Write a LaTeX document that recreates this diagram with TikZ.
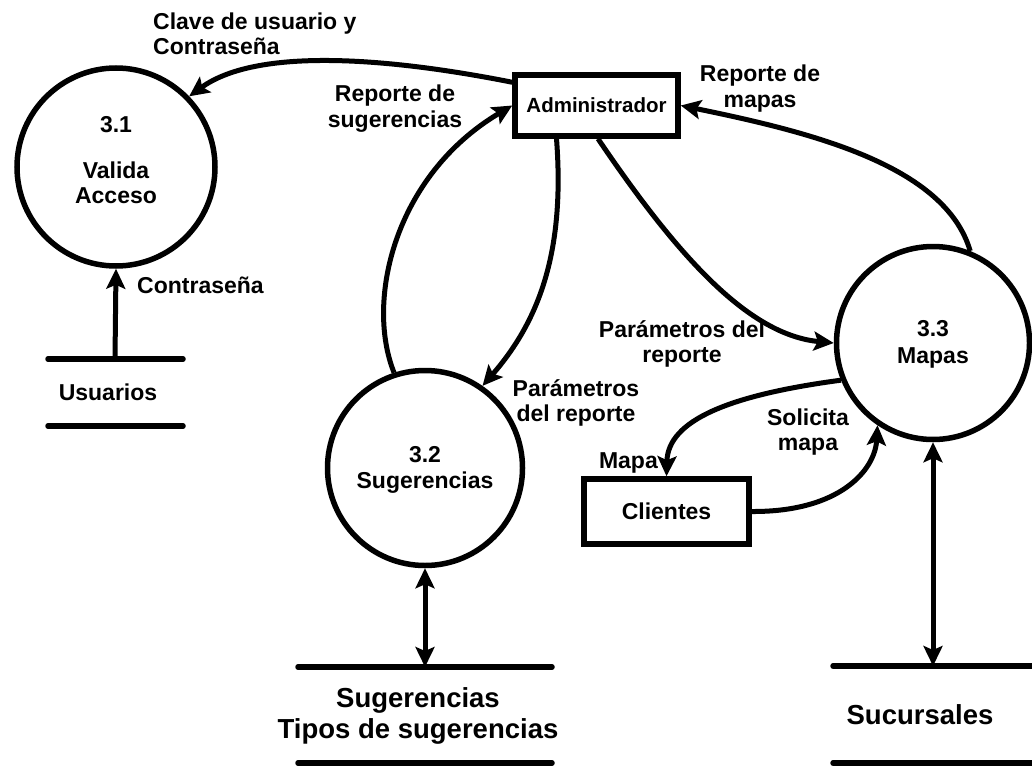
\documentclass[tikz,border=0pt]{standalone}
\usepackage{fontspec}
\setmainfont{Liberation Sans}
\usetikzlibrary{arrows.meta}
\newcommand\lblfont{\bfseries\fontsize{23}{25}\selectfont}
\newcommand\admfont{\bfseries\fontsize{20.5}{24}\selectfont}
\newcommand\storefont{\bfseries\fontsize{27.5}{31}\selectfont}
\begin{document}
\begin{tikzpicture}[x=1pt,y=-1pt,
  proc/.style={circle,draw,line width=5.5pt,inner sep=0pt},
  ent/.style={rectangle,draw,line width=5.5pt,inner sep=0pt,font=\lblfont},
  flow/.style={line width=5pt,-{Stealth[length=20pt,width=19pt,inset=4pt]}},
  bflow/.style={line width=5pt,{Stealth[length=20pt,width=19pt,inset=4pt]}-{Stealth[length=20pt,width=19pt,inset=4pt]}},
  storeline/.style={line width=5.5pt,line cap=round},
  lbl/.style={font=\lblfont,align=center,inner sep=0pt},
  storelbl/.style={font=\storefont,align=center,inner sep=0pt}]
\useasboundingbox (0,0) rectangle (1032,765);

% processes (multi-line texts are placed by the baseline of their last line)
\node[proc,minimum size=198pt] (p31) at (116,167) {};
\node[proc,minimum size=195pt] (p32) at (425,468) {};
\node[proc,minimum size=193pt] (p33) at (933,343) {};
\node[lbl,anchor=base] (p31t) at (116,203) {3.1\\[21pt]Valida\\Acceso};
\node[lbl,anchor=base] (p32t) at (425,488) {3.2\\[1pt]Sugerencias};
\node[lbl,anchor=base] (p33t) at (933,363) {3.3\\[2pt]Mapas};

% external entities
\node[ent,minimum width=163pt,minimum height=61pt,font=\admfont] (adm) at (596.5,105.5) {Administrador};
\node[ent,minimum width=165pt,minimum height=65pt] (cli) at (666.5,511.5) {Clientes};

% data stores
\draw[storeline] (48,359) -- (183,359);
\draw[storeline] (48,426) -- (183,426);
\coordinate (usr) at (115,359);
\node[lbl,anchor=base] (usrl) at (108,400) {Usuarios};

\draw[storeline] (298,667) -- (552,667);
\draw[storeline] (298,763) -- (552,763);
\coordinate (sgs) at (425,667);
\node[storelbl,anchor=base] (sgsl) at (418,738) {Sugerencias\\Tipos de sugerencias};

\draw[storeline] (833,666) -- (1040,666);
\draw[storeline] (833,763) -- (1040,763);
\coordinate (suc) at (933,666);
\node[storelbl,anchor=base] (sucl) at (920,724) {Sucursales};

% data flows
\draw[flow] (usr) -- (p31.south);
\draw[bflow] (p32.south) -- (sgs);
\draw[bflow] (p33.south) -- (suc);

\draw[flow] ([yshift=-10pt]adm.north west) .. controls (400,60) and (260,45) .. (p31.44);
\draw[flow] (p32.108) .. controls (365,300) and (395,175) .. (adm.west);
\draw[flow] ([xshift=-40pt]adm.south) .. controls (565,250) and (540,320) .. (p32.55);
\draw[flow] ([xshift=1.5pt]adm.south) .. controls (680,260) and (750,335) .. (p33.west);
\draw[flow] (p33.68) .. controls (945,165) and (810,132) .. (adm.east);
\draw[flow] (p33.202) .. controls (730,395) and (668,420) .. (cli.north);
\draw[flow] (cli.east) .. controls (840,512) and (875,470) .. (p33.236);

% flow labels
\node[lbl,anchor=base west,align=left] (l1) at (153,55) {Clave de usuario y\\Contraseña};
\node[lbl,anchor=base] (l2) at (395,127) {Reporte de\\sugerencias};
\node[lbl,anchor=base] (l3) at (760,107) {Reporte de\\mapas};
\node[lbl,anchor=base] (l4) at (576,421) {Parámetros\\del reporte};
\node[lbl,anchor=base] (l5) at (682,362) {Parámetros del\\reporte};
\node[lbl,anchor=base] (l6) at (808,450) {Solicita\\mapa};
\node[lbl,anchor=base east] (l7) at (658,468) {Mapa};
\node[lbl,anchor=base west] (l8) at (137,293) {Contraseña};
\end{tikzpicture}
\end{document}
